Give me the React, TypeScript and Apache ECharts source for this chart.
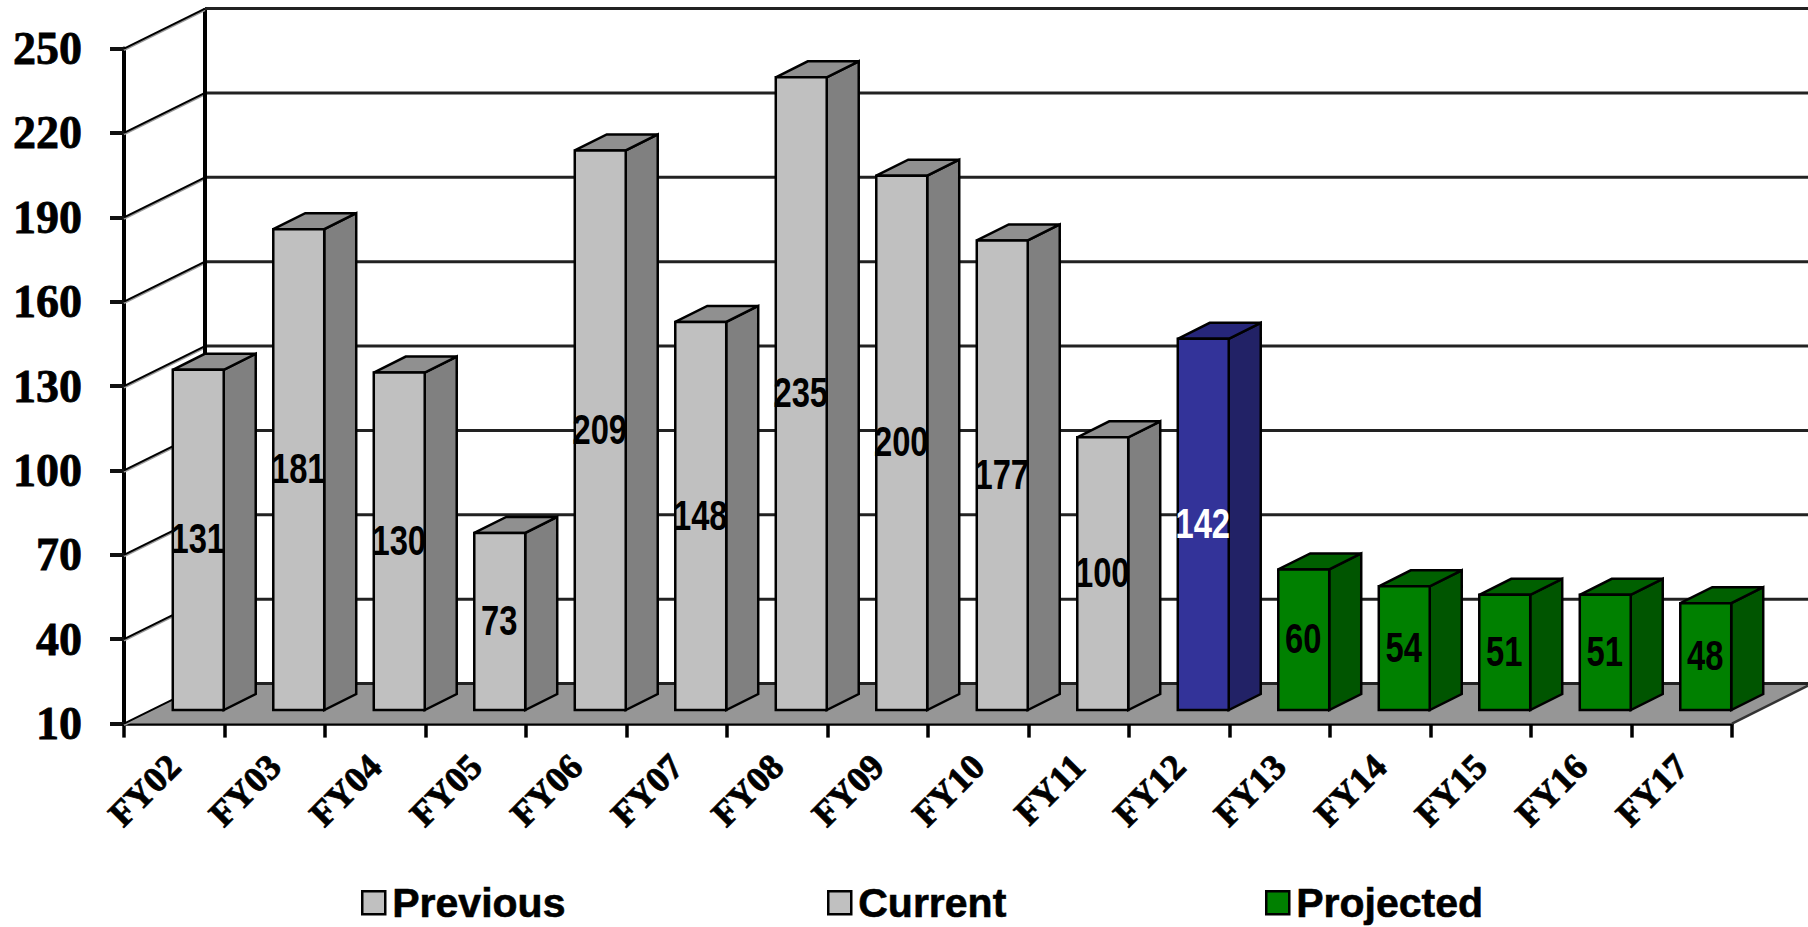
import React, { useEffect, useRef } from "react";
import * as echarts from "echarts";

const categories = ["FY02","FY03","FY04","FY05","FY06","FY07","FY08","FY09","FY10","FY11","FY12","FY13","FY14","FY15","FY16","FY17"];
// Labels as printed on the bars
const previousValues = [131,181,130,73,209,148,235,200,177,100];
// Heights as drawn: the FY11 bar is drawn taller than its printed label
const previousHeights = [131,181,130,73,209,148,235,200,177,107];
const currentValues = [142];
const projectedValues = [60,54,51,51,48];
const yTicks = [10,40,70,100,130,160,190,220,250];

const DEPTH_X = 81, DEPTH_Y = -40;       // wall depth
const PLANE_X = 24, PLANE_Y = -13.5;     // bars' plane, relative to the front of the floor
const BAR_DX = 32, BAR_DY = -16;         // bar depth
const BAR_RATIO = 0.507;

function triples(heights: number[], labels: number[], start: number) {
  return heights.map((v, i) => [categories[start + i], v, labels[i]]);
}

function barRenderer(front: string, side: string, top: string, labelColor: string) {
  return (params: any, api: any) => {
    const idx = api.value(0), val = api.value(1), label = api.value(2);
    const band = api.size([1, 0])[0];
    const w = band * BAR_RATIO;
    const base = api.coord([idx, 10]);
    const head = api.coord([idx, val]);
    const l = base[0] + PLANE_X - w / 2, r = l + w;
    const b = base[1] + PLANE_Y, t = head[1] + PLANE_Y;
    const line = { stroke: "#000", lineWidth: 2.5, lineJoin: "miter" };
    return {
      type: "group",
      children: [
        { type: "polygon", shape: { points: [[r, t], [r + BAR_DX, t + BAR_DY], [r + BAR_DX, b + BAR_DY], [r, b]] }, style: { fill: side, ...line } },
        { type: "polygon", shape: { points: [[l, t], [l + BAR_DX, t + BAR_DY], [r + BAR_DX, t + BAR_DY], [r, t]] }, style: { fill: top, ...line } },
        { type: "rect", shape: { x: l, y: t, width: w, height: b - t }, style: { fill: front, ...line } },
        { type: "text", x: (l + r) / 2 - 0.5, y: (t + b) / 2 - 1, scaleX: 0.78, scaleY: 1, silent: true,
          style: { text: String(label), fill: labelColor, font: 'bold 42px "Liberation Sans"', align: "center", verticalAlign: "middle" } },
      ],
    };
  };
}

function wallRenderer(params: any, api: any) {
  const v = api.value(0);
  const cs = params.coordSys;
  const p = api.coord([0, v]);
  const y = p[1], x0 = cs.x;
  const bx = x0 + DEPTH_X, by = y + DEPTH_Y;
  const right = api.getWidth();
  const kids: any[] = [];
  if (v === yTicks[0]) {
    const fx = cs.x + cs.width;
    kids.push({ type: "polygon", shape: { points: [[x0, y], [bx, by], [right, by], [right, by + 2], [fx, y]] }, style: { fill: "#969696" } });
    kids.push({ type: "line", shape: { x1: fx, y1: y, x2: right, y2: by + 2 }, style: { stroke: "#333", lineWidth: 2.5 } });
  }
  if (v === yTicks[yTicks.length - 1]) {
    kids.push({ type: "line", shape: { x1: bx, y1: by, x2: bx, y2: y + DEPTH_Y + cs.height }, style: { stroke: "#000", lineWidth: 4 } });
  }
  kids.push({ type: "line", shape: { x1: x0, y1: y + 1.5, x2: bx, y2: by + 1.5 }, style: { stroke: "#999", lineWidth: 2 } });
  kids.push({ type: "line", shape: { x1: x0, y1: y, x2: bx, y2: by }, style: { stroke: "#000", lineWidth: 2 } });
  kids.push({ type: "line", shape: { x1: bx, y1: by, x2: right, y2: by }, style: { stroke: "#222", lineWidth: 3 } });
  return { type: "group", children: kids };
}

function legendItem(name: string, color: string, left: number) {
  return {
    data: [{ name, itemStyle: { color, borderColor: "#000", borderWidth: 2.5 }, icon: "rect" }],
    left, top: 877, itemWidth: 23, itemHeight: 23, itemGap: 0, selectedMode: false,
    textStyle: { fontFamily: "Liberation Sans", fontWeight: "bold", fontSize: 41, lineHeight: 38, color: "#000", padding: [0, 0, 0, 2], textBorderColor: "#000", textBorderWidth: 0.6 },
  };
}

export default function App() {
  const ref = useRef<HTMLDivElement>(null);
  useEffect(() => {
    document.body.style.margin = "0";
    const chart = echarts.init(ref.current!, undefined, { renderer: "svg" });
    chart.setOption({
      animation: false,
      backgroundColor: "#fff",
      grid: { left: 124, right: 76, top: 48.6, bottom: 203.4, containLabel: false },
      legend: [
        legendItem("Previous", "#C0C0C0", 356),
        legendItem("Current", "#C0C0C0", 822),
        legendItem("Projected", "#008000", 1260),
      ],
      xAxis: {
        type: "category", data: categories,
        axisLine: { lineStyle: { color: "#000", width: 3.5 } },
        axisTick: { show: true, length: 14, lineStyle: { color: "#000", width: 3.5 } },
        axisLabel: { interval: 0, rotate: 45, margin: 37, color: "#000", fontFamily: "Liberation Serif", fontWeight: "bold", fontSize: 36,
          textBorderColor: "#222", textBorderWidth: 1 },
      },
      yAxis: {
        type: "value", min: 10, max: 250,
        axisLine: { show: true, lineStyle: { color: "#000", width: 4 } },
        axisTick: { show: true, length: 14, customValues: yTicks, lineStyle: { color: "#111", width: 4 } },
        axisLabel: { customValues: yTicks, margin: 42, color: "#000", fontFamily: "Liberation Serif", fontWeight: "bold", fontSize: 46,
          textBorderColor: "#000", textBorderWidth: 0.8 },
        splitLine: { show: false },
      },
      series: [
        { type: "custom", name: "walls", coordinateSystem: "cartesian2d", clip: false, z: 1, encode: { y: 0 }, silent: true,
          data: yTicks.map((v) => [v]), renderItem: (p: any, api: any) => wallRenderer(p, api) },
        { type: "custom", name: "Previous", coordinateSystem: "cartesian2d", clip: false, z: 3, encode: { x: 0, y: 1 },
          itemStyle: { color: "#C0C0C0" }, data: triples(previousHeights, previousValues, 0), renderItem: barRenderer("#C0C0C0", "#808080", "#909090", "#000") },
        { type: "custom", name: "Current", coordinateSystem: "cartesian2d", clip: false, z: 3, encode: { x: 0, y: 1 },
          itemStyle: { color: "#333399" }, data: triples(currentValues, currentValues, previousValues.length), renderItem: barRenderer("#333399", "#222266", "#26267a", "#fff") },
        { type: "custom", name: "Projected", coordinateSystem: "cartesian2d", clip: false, z: 3, encode: { x: 0, y: 1 },
          itemStyle: { color: "#008000" }, data: triples(projectedValues, projectedValues, previousValues.length + currentValues.length), renderItem: barRenderer("#008000", "#005500", "#006000", "#000") },
      ],
    });
    return () => chart.dispose();
  }, []);
  return <div ref={ref} style={{ position: "absolute", left: 0, top: 0, width: 1808, height: 927 }} />;
}
